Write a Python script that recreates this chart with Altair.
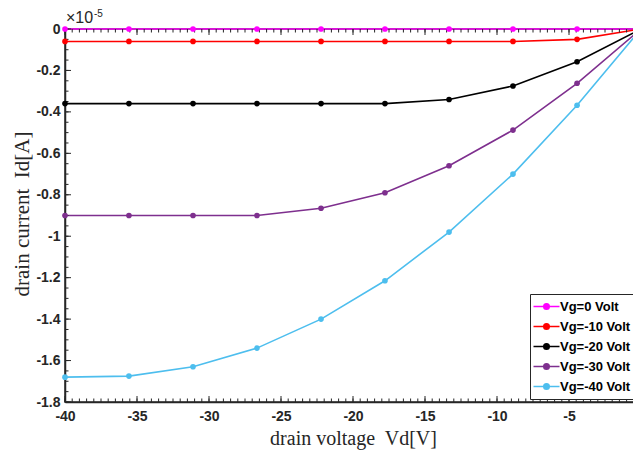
import altair as alt
import pandas as pd

# ---- data ----
vd = [-40, -35.56, -31.11, -26.67, -22.22, -17.78, -13.33, -8.89, -4.44, 0]
id_vg0 = [0, 0, 0, 0, 0, 0, 0, 0, 0, 0]
id_vg10 = [-0.06, -0.06, -0.06, -0.06, -0.06, -0.06, -0.06, -0.06, -0.05, 0]
id_vg20 = [-0.36, -0.36, -0.36, -0.36, -0.36, -0.36, -0.34, -0.275, -0.158, 0]
id_vg30 = [-0.9, -0.9, -0.9, -0.9, -0.865, -0.79, -0.66, -0.488, -0.262, 0]
id_vg40 = [-1.68, -1.675, -1.63, -1.54, -1.40, -1.215, -0.98, -0.70, -0.368, 0]

series = ["Vg=0 Volt", "Vg=-10 Volt", "Vg=-20 Volt", "Vg=-30 Volt", "Vg=-40 Volt"]
colors = ["#ff00ff", "#ff0000", "#000000", "#7e2f8e", "#4dbeee"]

x_ticks = [-40, -35, -30, -25, -20, -15, -10, -5]
y_ticks = [0, -0.2, -0.4, -0.6, -0.8, -1, -1.2, -1.4, -1.6, -1.8]
x_major = [-40, -35, -30, -25, -20, -15, -10, -5, 0]
x_minor = [round(-40 + 0.5 * i, 2) for i in range(81)]
y_minor = [round(-1.8 + 0.05 * i, 3) for i in range(37)]

rows = []
for name, vals in zip(series, [id_vg0, id_vg10, id_vg20, id_vg30, id_vg40]):
    for x, y in zip(vd, vals):
        rows.append({"series": name, "vd": x, "id": y})
df = pd.DataFrame(rows)

W, H = 576, 373
AX = "#262626"
XT = "drain voltage\u00a0 Vd[V]"
YT = "drain current\u00a0 Id[A]"
xs = alt.Scale(domain=[-40, 0], nice=False, zero=False)
ys = alt.Scale(domain=[-1.8, 0], nice=False, zero=False)
cs = alt.Scale(domain=series, range=colors)

MAJ, MIN = 6, 3.5


def xticks(vals, L, top):
    d = pd.DataFrame({"v": vals})
    if top:
        y1, y2 = 0, L
    else:
        y1, y2 = H, H - L
    return alt.Chart(d).mark_rule(color=AX, strokeWidth=1).encode(
        x=alt.X("v:Q", scale=xs, title=XT),
        y=alt.value(y1), y2=alt.value(y2))


def yticks(vals, L, right):
    d = pd.DataFrame({"v": vals})
    if right:
        x1, x2 = W - L, W
    else:
        x1, x2 = 0, L
    return alt.Chart(d).mark_rule(color=AX, strokeWidth=1).encode(
        y=alt.Y("v:Q", scale=ys, title=YT),
        x=alt.value(x1), x2=alt.value(x2))


tick_layers = [
    xticks(x_minor, MIN, False), xticks(x_major, MAJ, False),
    xticks(x_minor, MIN, True), xticks(x_major, MAJ, True),
    yticks(y_minor, MIN, False), yticks(y_ticks, MAJ, False),
    yticks(y_minor, MIN, True), yticks(y_ticks, MAJ, True),
]

leg = alt.Legend(title=None)

lines = alt.Chart(df).mark_line(strokeWidth=1.6).encode(
    x=alt.X("vd:Q", scale=xs, axis=alt.Axis(
        values=x_ticks, labelExpr="'' + datum.value", labelFlush=False,
        labelPadding=7, title=XT, titleFontSize=20,
        titleY=36, titleBaseline="middle")),
    y=alt.Y("id:Q", scale=ys, axis=alt.Axis(
        values=y_ticks, labelExpr="'' + datum.value", labelFlush=False,
        labelPadding=5, title=YT, titleFontSize=21,
        titleX=-43, titleY=H / 2 - 2, titleBaseline="middle")),
    stroke=alt.Stroke("series:N", scale=cs, legend=leg),
    detail="series:N",
)

points = alt.Chart(df).mark_point(filled=True, size=32, opacity=1).encode(
    x=alt.X("vd:Q", scale=xs, title=XT),
    y=alt.Y("id:Q", scale=ys, title=YT),
    fill=alt.Fill("series:N", scale=cs, legend=leg),
)

anno = pd.DataFrame({"x": [-40], "y": [0]})
times = alt.Chart(anno).mark_text(
    text="\u00d710", font="Liberation Sans", fontSize=16, color=AX,
    align="left", baseline="alphabetic", dx=1, dy=-6).encode(
    x=alt.X("x:Q", scale=xs, title=XT), y=alt.Y("y:Q", scale=ys, title=YT))
expo = alt.Chart(anno).mark_text(
    text="-5", font="Liberation Sans", fontSize=10, color=AX,
    align="left", baseline="alphabetic", dx=29, dy=-12).encode(
    x=alt.X("x:Q", scale=xs, title=XT), y=alt.Y("y:Q", scale=ys, title=YT))

sym = "M-2,0L2,0M-0.42,0A0.42,0.42,0,1,0,0.42,0A0.42,0.42,0,1,0,-0.42,0Z"

chart = alt.layer(lines, *tick_layers, points, times, expo).properties(
    width=W, height=H,
    autosize=alt.AutoSizeParams(type="none"),
    padding={"left": 57, "top": 21, "right": -8, "bottom": 50},
    background="white",
).configure_view(
    stroke=AX, strokeWidth=1.5
).configure_axis(
    grid=False, ticks=False, tickSize=0,
    domainColor=AX, domainWidth=1.5,
    labelFont="Liberation Sans", labelFontWeight="bold", labelFontSize=14,
    labelColor=AX,
    titleFont="Liberation Serif", titleFontWeight="normal", titleFontSize=19,
    titleColor=AX,
).configure_legend(
    orient="none", legendX=465, legendY=265,
    symbolType=sym, symbolSize=169, symbolStrokeWidth=1.6,
    labelFont="Liberation Sans", labelFontWeight="bold", labelFontSize=13,
    labelColor="#000000", padding=5, rowPadding=5,
    strokeColor=AX, fillColor="white", symbolOffset=4, labelOffset=6,
    labelLimit=200,
)

chart.save("out.html", embed_options={"renderer": "svg", "actions": False})
